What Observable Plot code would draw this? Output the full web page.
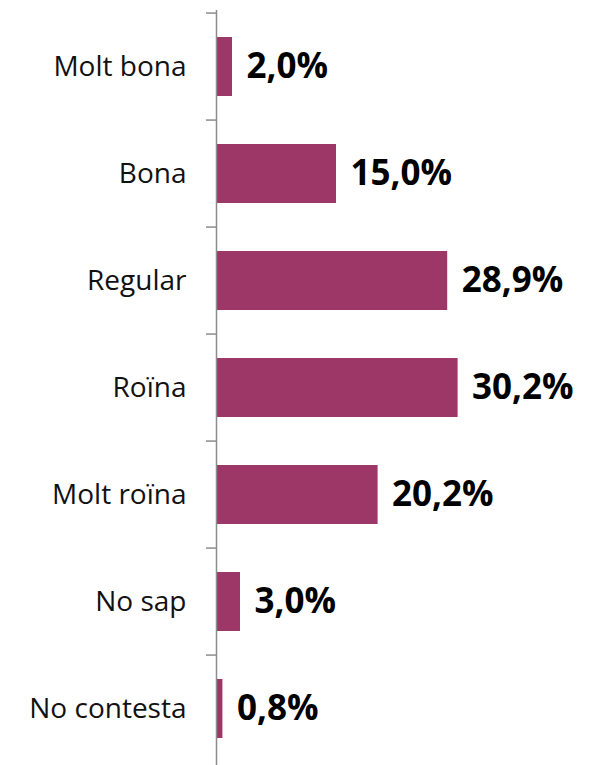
<!DOCTYPE html>
<html>
<head>
<meta charset="utf-8">
<script src="https://cdn.jsdelivr.net/npm/d3@7"></script>
<script src="https://cdn.jsdelivr.net/npm/@observablehq/plot@0.6"></script>
<style>
  html, body { margin: 0; padding: 0; background: #ffffff; }
</style>
</head>
<body>
<div id="chart"></div>
<script>
const categories = ["Molt bona", "Bona", "Regular", "Roïna", "Molt roïna", "No sap", "No contesta"];
const values = [2.0, 15.0, 28.9, 30.2, 20.2, 3.0, 0.8];
const valueLabels = ["2,0%", "15,0%", "28,9%", "30,2%", "20,2%", "3,0%", "0,8%"];

const data = categories.map((c, i) => ({category: c, value: values[i], label: valueLabels[i]}));

const W = 602, H = 765, mTop = 10, mBottom = 0;
const step = (H - mTop - mBottom) / categories.length;

const chart = Plot.plot({
  width: W,
  height: H,
  marginTop: mTop,
  marginBottom: mBottom,
  marginLeft: 216,
  marginRight: 0,
  style: {fontFamily: "'Open Sans', sans-serif", background: "transparent", overflow: "visible"},
  x: {domain: [0, 48.25], axis: null},
  y: {domain: categories, padding: 0, axis: null},
  marks: [
    Plot.barX(data, {x: "value", y: "category", fill: "#9d3767", insetTop: 24, insetBottom: 24}),
    Plot.ruleX([0], {stroke: "#8c8c8c", strokeWidth: 1.5}),
    Plot.axisY({tickSize: 10, tickFormat: () => "", label: null, dy: -step / 2, stroke: "#8c8c8c", strokeWidth: 1.5}),
    Plot.axisY({tickSize: 0, tickPadding: 30, label: null, fontSize: 28, color: "#111"}),
    Plot.text(data, {x: "value", y: "category", text: "label", dx: 14, textAnchor: "start",
      fontSize: 35, fontWeight: "bold", fill: "#000"})
  ]
});
document.getElementById("chart").appendChild(chart);
</script>
</body>
</html>
